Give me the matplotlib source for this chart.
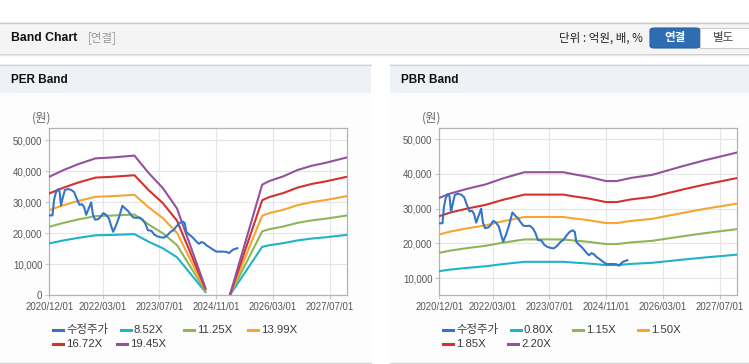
import numpy as np
import matplotlib.pyplot as plt
from matplotlib.patches import Rectangle, FancyBboxPatch
from matplotlib.lines import Line2D

# -------------------------------------------------
# Data (x = months since 2020/12)
# -------------------------------------------------
tick_months = [0, 15, 31, 47, 63, 79]
tick_labels = ["2020/12/01", "2022/03/01", "2023/07/01", "2024/11/01", "2026/03/01", "2027/07/01"]

price_months = [0.0, 0.9, 1.3, 1.8, 2.4, 2.9, 3.3, 3.8, 4.4, 5.3, 6.2, 7.0, 7.8, 8.5, 9.2,
                9.8, 10.4, 11.1, 11.8, 12.3, 12.9, 13.8, 14.4, 15.2, 16.0, 16.8, 17.4, 18.0,
                18.8, 19.6, 20.6, 21.4, 22.2, 23.0, 23.7, 24.6, 25.5, 26.4, 27.1, 27.8, 28.8,
                29.6, 30.5, 31.5, 32.3, 33.3, 34.2, 35.0, 35.8, 36.7, 37.6, 38.2, 38.6, 39.3,
                40.1, 40.8, 41.5, 42.2, 42.9, 43.6, 44.2, 44.9, 45.7, 46.5, 47.1, 48.0, 49.0,
                50.0, 50.7, 51.3, 51.9, 52.5, 53.0]
price = [25800, 25800, 30500, 33000, 34200, 33500, 29000, 31500, 34000, 34300, 34000, 33300,
         31000, 29200, 29400, 28500, 26000, 28000, 30000, 26000, 24400, 24600, 25200, 26500,
         26000, 24800, 22500, 20500, 22500, 25000, 28900, 28000, 27200, 26000, 25100, 25000,
         25100, 24300, 23000, 21000, 20800, 19600, 19000, 18700, 18600, 19400, 20500, 21000,
         22200, 23300, 23800, 23300, 20500, 19700, 19000, 18200, 17300, 16600, 17200, 16900,
         16200, 15700, 15100, 14500, 14100, 14100, 14100, 14000, 13600, 14300, 14800, 15000,
         15200]

# EPS behind the PER band (gap = no band drawn)
eps_months = [0, 4, 8, 13, 18, 24, 28, 32, 36, 44, 47, 51, 60, 62, 66, 70, 74, 78, 84]
eps = [1967, 2078, 2173, 2272, 2289, 2318, 2030, 1780, 1440, 125, np.nan, 25, 1835, 1896,
       1975, 2080, 2150, 2200, 2290]
per_multiples = [8.52, 11.25, 13.99, 16.72, 19.45]

# BPS behind the PBR band
bps_months = [0, 3, 8, 13, 18, 24, 35, 38, 42, 47, 50, 54, 60, 63, 69, 75, 84]
bps = [15050, 15600, 16250, 16800, 17600, 18400, 18400, 18120, 17800, 17240, 17240, 17650,
       18050, 18450, 19240, 19980, 20980]
pbr_multiples = [0.80, 1.15, 1.50, 1.85, 2.20]

price_label = "수정주가"
band_colors = ["#1fb3c8", "#8fb656", "#f4a532", "#d4322c", "#94519c"]
price_color = "#3575c6"

W, H = 749, 364
KR = ["Noto Sans CJK KR", "DejaVu Sans"]
LAT = ["Liberation Sans", "Noto Sans CJK KR"]

fig = plt.figure(figsize=(W / 100, H / 100), dpi=100)
fig.patch.set_facecolor("white")


def fx(x):
    return x / W


def fy(y):
    return 1 - y / H


def rect(x0, y0, x1, y1, fc, ec="none", lw=0, z=-5):
    fig.add_artist(Rectangle((fx(x0), fy(y1)), (x1 - x0) / W, (y1 - y0) / H,
                             transform=fig.transFigure, facecolor=fc, edgecolor=ec,
                             linewidth=lw, zorder=z))


def hline(x0, x1, y, color, lw=1):
    fig.add_artist(Line2D([fx(x0), fx(x1)], [fy(y), fy(y)], transform=fig.transFigure,
                          color=color, linewidth=lw, zorder=-4))


# -------------------------------------------------
# Header bar
# -------------------------------------------------
rect(0, 22, W, 53, "#f4f4f4")
hline(0, W, 22.5, "#c9c9c9", 1)
hline(0, W, 53.5, "#cfcfcf", 1)
hline(0, W, 54.5, "#e8e8e8", 1)
fig.text(fx(11), fy(38), "Band Chart", fontsize=8.8, fontweight="bold", family=LAT,
         color="#111111", va="center")
fig.text(fx(88), fy(38), "[연결]", fontsize=8.3, family=KR, color="#9a9a9a", va="center")
fig.text(fx(643), fy(38), "단위 : 억원, 배, %", fontsize=8.3, family=KR, color="#222222",
         va="center", ha="right")
fig.add_artist(FancyBboxPatch((fx(650), fy(48)), 50 / W, 20 / H,
                              boxstyle="round,pad=0,rounding_size=0.006",
                              transform=fig.transFigure, facecolor="#2f6db3",
                              edgecolor="#2a5f9e", lw=0.8, zorder=-3))
rect(700, 28, 752, 48, "white", "#cccccc", 0.8, z=-3)
fig.text(fx(675), fy(38), "연결", fontsize=8.3, family=KR, color="white", fontweight="bold",
         ha="center", va="center")
fig.text(fx(724), fy(38), "별도", fontsize=8.3, family=KR, color="#444444",
         ha="center", va="center")

# -------------------------------------------------
# Panels
# -------------------------------------------------
panels = [(0, 371, "PER Band"), (390, 749, "PBR Band")]
for x0, x1, title in panels:
    rect(x0, 93, x1, 362, "#fdfdfd")
    rect(x0, 64, x1, 93, "#eef1f6")
    hline(x0, x1, 64.5, "#d6d6d6", 1)
    hline(x0, x1, 362.5, "#d6d6d6", 1)
    fig.text(fx(x0 + 11), fy(80), title, fontsize=8.5, fontweight="bold", family=LAT,
             color="#111111", va="center")


def draw_band(left, base_months, base, multiples, ylim, yticks, legend_x):
    ax = fig.add_axes([fx(left), fy(295.3), 298 / W, 167 / H])
    ax.set_zorder(2)
    ax.set_facecolor("white")
    base = np.array(base, dtype=float)
    for m, c in zip(multiples, band_colors):
        ax.plot(base_months, base * m, color=c, lw=1.5, zorder=3)
    ax.plot(price_months, price, color=price_color, lw=1.5, zorder=4)
    ax.set_xlim(0, 84)
    ax.set_ylim(*ylim)
    ax.set_xticks(tick_months)
    ax.set_xticklabels(tick_labels)
    ax.set_yticks(yticks)
    ax.set_yticklabels([f"{v:,}" for v in yticks])
    ax.grid(True, color="#e6e6e6", lw=0.8)
    ax.set_axisbelow(True)
    for s in ax.spines.values():
        s.set_color("#b4b4b4")
        s.set_linewidth(0.9)
    ax.tick_params(length=3, color="#c8c8c8", labelsize=6.9, labelcolor="#555555", pad=2)
    for lab in ax.get_xticklabels() + ax.get_yticklabels():
        lab.set_family(LAT)
    fig.text(fx(left - 17), fy(118), "(원)", fontsize=8.8, family=KR, color="#666666",
             va="center")

    # legend
    labels = [price_label] + [f"{m:.2f}X" for m in multiples]
    colors = [price_color] + band_colors
    for (lx, ly), lab, c in zip(legend_x, labels, colors):
        fig.add_artist(Line2D([fx(lx), fx(lx + 10)], [fy(ly), fy(ly)], transform=fig.transFigure,
                              color=c, linewidth=2.2))
        fig.text(fx(lx + 13), fy(ly), lab, fontsize=8.2, family=LAT, color="#3a3a3a", va="center")
    return ax


per_legend = [(53, 330), (121, 330), (184, 330), (248, 330), (53, 344), (117, 344)]
pbr_legend = [(443, 330), (511, 330), (573, 330), (638, 330), (443, 344), (508, 344)]

draw_band(49.3, eps_months, eps, per_multiples, (0, 53900),
          [0, 10000, 20000, 30000, 40000, 50000], per_legend)
draw_band(439.3, bps_months, bps, pbr_multiples, (5100, 53100),
          [10000, 20000, 30000, 40000, 50000], pbr_legend)

fig.savefig("out.png", dpi=100)
